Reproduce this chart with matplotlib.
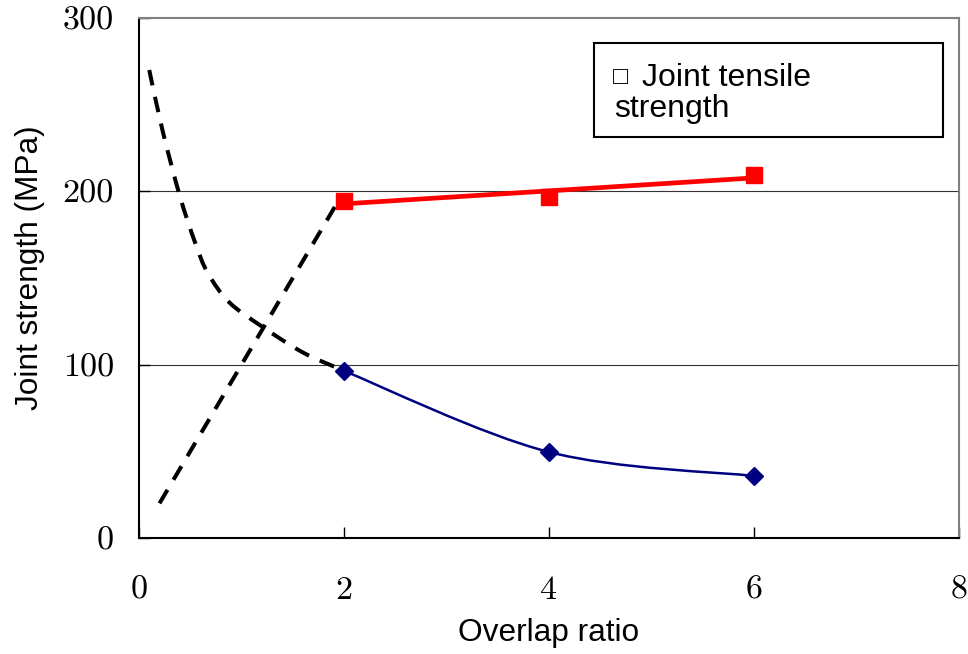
import matplotlib
matplotlib.use("Agg")
import matplotlib.pyplot as plt
import numpy as np
from matplotlib.path import Path
from matplotlib.patches import PathPatch, Rectangle

# measured data
ratio = [2, 4, 6]
tensile = [194.5, 196.8, 209.5]
shear = [96.4, 49.6, 35.8]

# hand drawn guide curves
guide_up_x = [0.2, 1.95]
guide_up_y = [20, 195]
guide_down_x = [0.1, 0.23, 0.4, 0.55, 0.67, 0.88, 1.2, 1.6, 1.98]
guide_down_y = [270, 235, 197, 170, 153, 136, 122, 107, 97]

x_ticks = [0, 2, 4, 6, 8]
y_ticks = [0, 100, 200, 300]

sans = ['Liberation Sans', 'DejaVu Sans']
serif = ['cmr10', 'DejaVu Serif']


def smooth_path(xs, ys):
    # excel-like bezier smoothing through the points
    pts = np.column_stack([xs, ys]).astype(float)
    n = len(pts)
    verts = [pts[0]]
    codes = [Path.MOVETO]
    for i in range(n - 1):
        p_prev = pts[i - 1] if i > 0 else pts[i]
        p_next = pts[i + 2] if i + 2 < n else pts[i + 1]
        c1 = pts[i] + (pts[i + 1] - p_prev) / 6
        c2 = pts[i + 1] - (p_next - pts[i]) / 6
        verts += [c1, c2, pts[i + 1]]
        codes += [Path.CURVE4] * 3
    return Path(verts, codes)


fig = plt.figure(figsize=(9.68, 6.54), dpi=100)
ax = fig.add_axes([139 / 968, 116 / 654, 820 / 968, 520 / 654])

ax.set_xlim(0, 8)
ax.set_ylim(0, 300)

for yv in [100, 200]:
    ax.axhline(yv, color='#333333', lw=0.8, zorder=1)

dash = (0, (3.9, 2.9))
ax.plot(guide_up_x, guide_up_y, color='black', lw=2.9, linestyle=dash, zorder=2)
ax.add_patch(PathPatch(smooth_path(guide_down_x, guide_down_y), fill=False,
                       edgecolor='black', lw=2.9, linestyle=dash, zorder=2))

# red trend line + points
k, b = np.polyfit(ratio, tensile, 1)
xr = np.array([ratio[0], ratio[-1]])
ax.plot(xr, k * xr + b, color='#ff0000', lw=3.4, zorder=3)
ax.plot(ratio, tensile, linestyle='none', marker='s', markersize=12,
        color='#ff0000', zorder=4)

# blue smoothed line
ax.add_patch(PathPatch(smooth_path(ratio, shear), fill=False,
                       edgecolor='#000080', lw=1.8, zorder=3))
ax.plot(ratio, shear, linestyle='none', marker='D', markersize=9,
        color='#000080', zorder=4)

ax.set_xticks(x_ticks)
ax.set_yticks(y_ticks)
ax.tick_params(direction='in', length=8, width=1, color='black')
ax.tick_params(axis='x', pad=27)
ax.tick_params(axis='y', pad=18)
for lab in ax.get_xticklabels() + ax.get_yticklabels():
    lab.set_family(serif)
    lab.set_fontsize(24.5)

ax.spines['left'].set_linewidth(1.5)
ax.spines['bottom'].set_linewidth(1.5)
ax.spines['top'].set_color('#808080')
ax.spines['right'].set_color('#808080')
ax.spines['top'].set_linewidth(1.5)
ax.spines['right'].set_linewidth(1.5)

fig.text(549 / 968, 1 - 633 / 654, 'Overlap ratio', family=sans, fontsize=22.8,
         ha='center', va='center')
fig.text(30 / 968, 1 - 268 / 654, 'Joint strength (MPa)', family=sans,
         fontsize=22.8, rotation=90, ha='center', va='center')

# legend-like box
box = Rectangle((594 / 968, 1 - 137 / 654), 349 / 968, 94 / 654,
                transform=fig.transFigure, facecolor='white',
                edgecolor='black', lw=1.5, zorder=5)
fig.add_artist(box)
fig.text(613 / 968, 1 - 84 / 654, '\u25a1', family=sans, fontsize=18,
         ha='left', va='baseline', zorder=6)
fig.text(642 / 968, 1 - 86 / 654, 'Joint tensile', family=sans, fontsize=23,
         ha='left', va='baseline', zorder=6)
fig.text(614 / 968, 1 - 117 / 654, 'strength', family=sans, fontsize=23,
         ha='left', va='baseline', zorder=6)

fig.savefig('out.png', dpi=100)
